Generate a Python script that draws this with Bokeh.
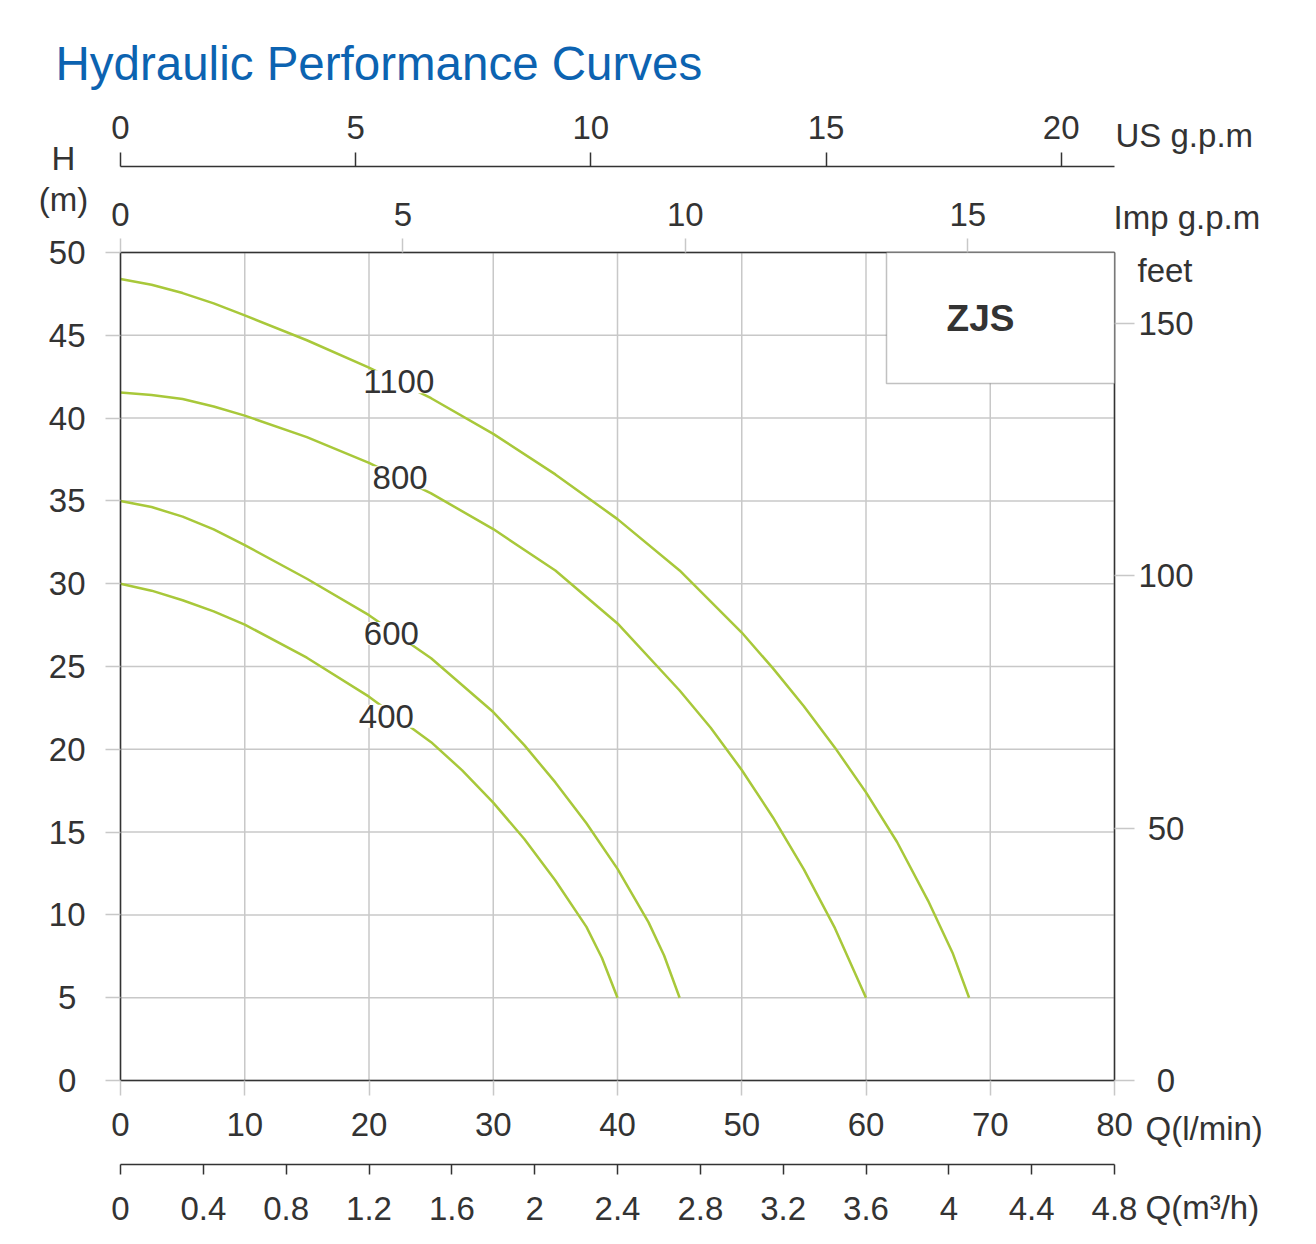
from bokeh.plotting import figure
from bokeh.models import LinearAxis, Range1d, FixedTicker, Label, BoxAnnotation, PrintfTickFormatter
from bokeh.embed import file_html
from bokeh.resources import INLINE

FONT = "Liberation Sans"
INK = "#333333"
GRID = "#c8c8c8"
CURVE = "#a8c83a"
BLUE = "#0c63b1"
FS = "33px"

# ---- data (Q in l/min, H in m) ----
q_1100 = [0, 2.5, 5, 7.5, 10, 15, 20, 25, 30, 35, 40, 45, 50, 52.5, 55, 57.5, 60, 62.5, 65, 67, 68.3]
h_1100 = [48.4, 48.05, 47.55, 46.93, 46.2, 44.7, 43.05, 41.2, 39.05, 36.6, 33.9, 30.8, 27.05,
          24.9, 22.6, 20.1, 17.4, 14.4, 10.85, 7.65, 5.0]
q_800 = [0, 2.5, 5, 7.5, 10, 15, 20, 25, 30, 35, 40, 45, 47.5, 50, 52.5, 55, 57.5, 60]
h_800 = [41.55, 41.4, 41.15, 40.7, 40.15, 38.85, 37.3, 35.45, 33.3, 30.8, 27.6, 23.55, 21.3,
         18.75, 15.9, 12.75, 9.2, 5.0]
q_600 = [0, 2.5, 5, 7.5, 10, 15, 20, 25, 30, 32.5, 35, 37.5, 40, 42.5, 43.75, 45]
h_600 = [35.0, 34.63, 34.05, 33.28, 32.33, 30.3, 28.1, 25.5, 22.25, 20.25, 18.0, 15.53, 12.78,
         9.55, 7.55, 5.0]
q_400 = [0, 2.5, 5, 7.5, 10, 15, 20, 25, 27.5, 30, 32.5, 35, 37.5, 38.75, 40]
h_400 = [30.0, 29.58, 29.0, 28.33, 27.53, 25.53, 23.18, 20.43, 18.73, 16.78, 14.58, 12.08,
         9.28, 7.4, 5.0]

curve_names = ["1100", "800", "600", "400"]
curve_q = [q_1100, q_800, q_600, q_400]
curve_h = [h_1100, h_800, h_600, h_400]
label_q = [22.4, 22.5, 21.8, 21.4]
label_h = [42.2, 36.4, 27.0, 22.0]

q_ticks = [0, 10, 20, 30, 40, 50, 60, 70, 80]
h_ticks = [0, 5, 10, 15, 20, 25, 30, 35, 40, 45, 50]
us_ticks = [0, 5, 10, 15, 20]
imp_ticks = [0, 5, 10, 15]
m3h_ticks = [0, 0.4, 0.8, 1.2, 1.6, 2, 2.4, 2.8, 3.2, 3.6, 4, 4.4, 4.8]
ft_ticks = [0, 50, 100, 150]

Q_MAX = 80
H_MAX = 50
LPM_PER_USGPM = 3.78541
LPM_PER_IMPGPM = 4.54609
M3H_PER_LPM = 0.06
FT_PER_M = 3.28084

# ---- layout in pixels (canvas) ----
W, HGT = 1310, 1240
FRAME_L, FRAME_R, FRAME_T, FRAME_B = 120, 1114, 252, 1080
KX = (FRAME_R - FRAME_L) / Q_MAX      # px per l/min
KY = (FRAME_B - FRAME_T) / H_MAX      # px per m


def qx(px):
    return (px - FRAME_L) / KX


def hy(py):
    return (FRAME_B - py) / KY


x0, x1 = qx(0), qx(W)
y0, y1 = hy(HGT), hy(0)

p = figure(width=W, height=HGT, x_range=Range1d(x0, x1), y_range=Range1d(y0, y1),
           output_backend="svg", toolbar_location=None, title=None,
           min_border_left=0, min_border_right=0, min_border_top=0, min_border_bottom=0)
p.background_fill_color = "white"
p.border_fill_color = "white"
p.outline_line_color = None
p.xgrid.visible = False
p.ygrid.visible = False

p.extra_x_ranges = {
    "imp": Range1d(x0 / LPM_PER_IMPGPM, x1 / LPM_PER_IMPGPM),
    "us": Range1d(x0 / LPM_PER_USGPM, x1 / LPM_PER_USGPM),
    "m3h": Range1d(x0 * M3H_PER_LPM, x1 * M3H_PER_LPM),
}
p.extra_y_ranges = {"ft": Range1d(y0 * FT_PER_M, y1 * FT_PER_M)}


def style(ax, tick_color, tick_out, standoff):
    ax.axis_line_color = INK
    ax.axis_line_width = 1.5
    ax.major_tick_line_color = tick_color
    ax.major_tick_line_width = 1.5
    ax.major_tick_out = tick_out
    ax.major_tick_in = 0
    ax.minor_tick_line_color = None
    ax.major_label_text_font = FONT
    ax.major_label_text_font_size = FS
    ax.major_label_text_color = INK
    ax.major_label_standoff = standoff


# grid lines inside the plotting box
p.segment(x0=q_ticks, y0=[0] * len(q_ticks), x1=q_ticks, y1=[H_MAX] * len(q_ticks),
          line_color=GRID, line_width=1.5)
p.segment(x0=[0] * len(h_ticks), y0=h_ticks, x1=[Q_MAX] * len(h_ticks), y1=h_ticks,
          line_color=GRID, line_width=1.5)

# primary Q axis (l/min) at H = 0
xa = p.xaxis[0]
xa.ticker = FixedTicker(ticks=q_ticks)
xa.fixed_location = 0
xa.bounds = (0, Q_MAX)
style(xa, GRID, 15, 17)

# primary H axis at Q = 0
ya = p.yaxis[0]
ya.ticker = FixedTicker(ticks=h_ticks)
ya.fixed_location = 0
ya.bounds = (0, H_MAX)
style(ya, GRID, 15, 20)
ya.major_label_overrides = {0: "0\u00a0", 5: "5\u00a0"}

# Imp g.p.m axis on top of the box
imp_ax = LinearAxis(x_range_name="imp", ticker=FixedTicker(ticks=imp_ticks),
                    fixed_location=H_MAX, bounds=(0, Q_MAX / LPM_PER_IMPGPM))
style(imp_ax, GRID, 14, 13)
p.add_layout(imp_ax, "above")

# US g.p.m axis higher up
us_ax = LinearAxis(x_range_name="us", ticker=FixedTicker(ticks=us_ticks),
                   fixed_location=hy(166), bounds=(0, Q_MAX / LPM_PER_USGPM))
style(us_ax, INK, 14, 14)
p.add_layout(us_ax, "above")

# m3/h axis below
m3_ax = LinearAxis(x_range_name="m3h", ticker=FixedTicker(ticks=m3h_ticks),
                   formatter=PrintfTickFormatter(format="%g"),
                   fixed_location=hy(1164), bounds=(0, Q_MAX * M3H_PER_LPM))
style(m3_ax, INK, 10, 22)
p.add_layout(m3_ax, "below")

# feet axis on the right of the box
ft_ax = LinearAxis(y_range_name="ft", ticker=FixedTicker(ticks=ft_ticks),
                   fixed_location=Q_MAX, bounds=(0, H_MAX * FT_PER_M))
style(ft_ax, GRID, 20, 4)
ft_ax.major_label_overrides = {0: "\u00a0\u00a00", 50: "\u00a050"}
p.add_layout(ft_ax, "right")

# model box
p.add_layout(BoxAnnotation(left=qx(886), right=Q_MAX, bottom=hy(383), top=H_MAX,
                           fill_color="white", fill_alpha=1.0,
                           line_color=INK, line_width=1.5))

for q, h in zip(curve_q, curve_h):
    p.line(q, h, line_color=CURVE, line_width=2.5, line_join="round")

for name, lq, lh in zip(curve_names, label_q, label_h):
    p.add_layout(Label(x=lq, y=lh, text=name, text_align="center", text_baseline="middle",
                       text_font=FONT, text_font_size=FS, text_color=INK,
                       background_fill_color="white", background_fill_alpha=1.0))


def txt(px, py, s, size=FS, color=INK, align="left", baseline="middle", style_="normal"):
    p.add_layout(Label(x=qx(px), y=hy(py), text=s, text_align=align, text_baseline=baseline,
                       text_font=FONT, text_font_size=size, text_color=color,
                       text_font_style=style_))


txt(980, 318, "ZJS", size="37px", align="center", style_="bold")
txt(55, 63, "Hydraulic Performance Curves", size="47.5px", color=BLUE)
txt(63, 158, "H", align="center")
txt(63, 199, "(m)", align="center")
txt(1115, 135, "US g.p.m")
txt(1113, 217, "Imp g.p.m")
txt(1137, 270, "feet")
txt(1145, 1128, "Q(l/min)")
txt(1145, 1207, "Q(m\u00b3/h)")

open("out.html", "w").write(file_html(p, INLINE))
